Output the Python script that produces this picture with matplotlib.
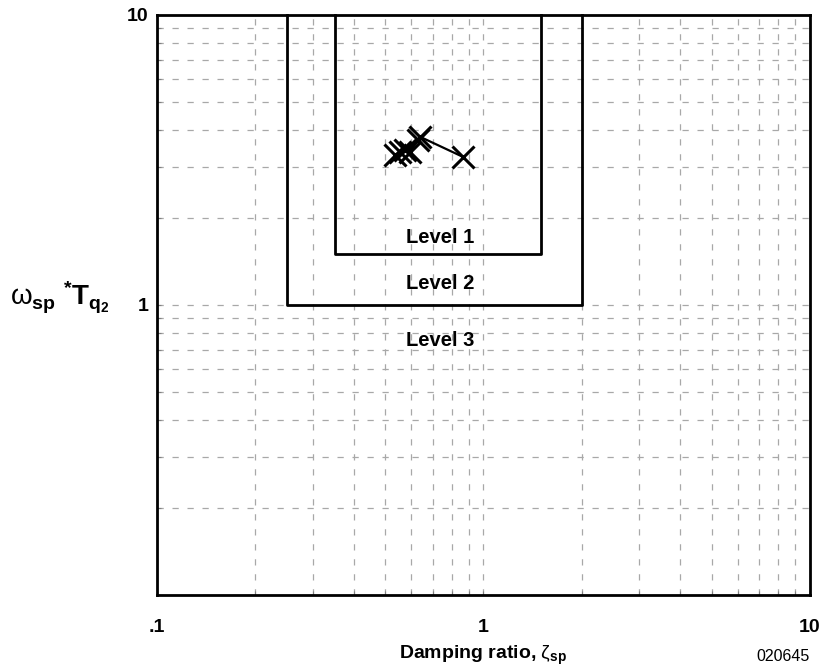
import matplotlib
matplotlib.use("Agg")
import matplotlib.pyplot as plt
from matplotlib.ticker import LogLocator, FixedLocator, NullFormatter

plt.rcParams['font.family'] = ['Liberation Sans', 'DejaVu Sans']
plt.rcParams['mathtext.fontset'] = 'custom'
plt.rcParams['mathtext.rm'] = 'Liberation Sans'
plt.rcParams['mathtext.it'] = 'Liberation Sans:italic'
plt.rcParams['mathtext.bf'] = 'Liberation Sans:bold'

# Flight-test points: damping ratio vs. omega_sp * T_theta2
zeta_sp = [0.866, 0.640, 0.630, 0.595, 0.575, 0.555, 0.536]
omega_t = [3.24, 3.80, 3.71, 3.37, 3.42, 3.37, 3.29]

# Level boundaries (open-topped boxes)
level1_zeta = [0.35, 0.35, 1.5, 1.5]
level1_wt = [10, 1.5, 1.5, 10]
level2_zeta = [0.25, 0.25, 2.0, 2.0]
level2_wt = [10, 1.0, 1.0, 10]

level_labels = ["Level 1", "Level 2", "Level 3"]
level_label_y = [1.71, 1.19, 0.757]

x_tick_vals = [0.1, 1, 10]
x_tick_text = [".1", "1", "10"]
y_tick_vals = [1, 10]
y_tick_text = ["1", "10"]

fig = plt.figure(figsize=(8.27, 6.72), dpi=100)
ax = fig.add_axes([0.1898, 0.1146, 0.9794 - 0.1898, 0.9777 - 0.1146])
ax.set_xscale('log')
ax.set_yscale('log')
ax.set_xlim(0.1, 10)
ax.set_ylim(0.1, 10)

minor = LogLocator(base=10, subs=range(2, 10))
ax.xaxis.set_major_locator(FixedLocator(x_tick_vals))
ax.yaxis.set_major_locator(FixedLocator([0.1, 1, 10]))
for axis in (ax.xaxis, ax.yaxis):
    axis.set_minor_locator(minor)
    axis.set_minor_formatter(NullFormatter())
ax.set_xticks(x_tick_vals, x_tick_text)
ax.set_yticks([0.1] + y_tick_vals, [""] + y_tick_text)

ax.grid(True, which='both', color='#a8a8a8', linestyle=(0, (5, 7)), linewidth=0.9)
ax.tick_params(which='both', direction='in', length=3, width=0.8, color='#808080')
ax.tick_params(axis='x', which='major', pad=17, labelsize=14)
ax.tick_params(axis='y', which='major', pad=6, labelsize=14)
for lbl in ax.get_xticklabels() + ax.get_yticklabels():
    lbl.set_fontweight('bold')
for sp in ax.spines.values():
    sp.set_linewidth(2)
    sp.set_zorder(5)

ax.plot(level1_zeta, level1_wt, color='black', linewidth=2, zorder=3, clip_on=False)
ax.plot(level2_zeta, level2_wt, color='black', linewidth=2, zorder=3, clip_on=False)

for txt, yv in zip(level_labels, level_label_y):
    ax.text(0.736, yv, txt, ha='center', va='center', fontsize=14.5,
            fontweight='bold', zorder=4)

ax.plot(zeta_sp, omega_t, color='black', linewidth=1.6, marker='x',
        markersize=16, markeredgewidth=2.2, zorder=4)

ax.set_xlabel(r'Damping ratio, $\mathrm{ζ}_{\mathbf{sp}}$', fontsize=14,
              fontweight='bold', labelpad=6)
fig.text(0.012, 0.557,
         r'$\mathrm{ω}_{\mathbf{sp}}\ ^{\mathbf{*}}\mathbf{T}_{\mathbf{q}_{\mathbf{2}}}$',
         fontsize=20, ha='left', va='center')
fig.text(0.947, 0.012, "020645", fontsize=11.5, ha='center', va='bottom')

fig.savefig("out.png", dpi=100)
